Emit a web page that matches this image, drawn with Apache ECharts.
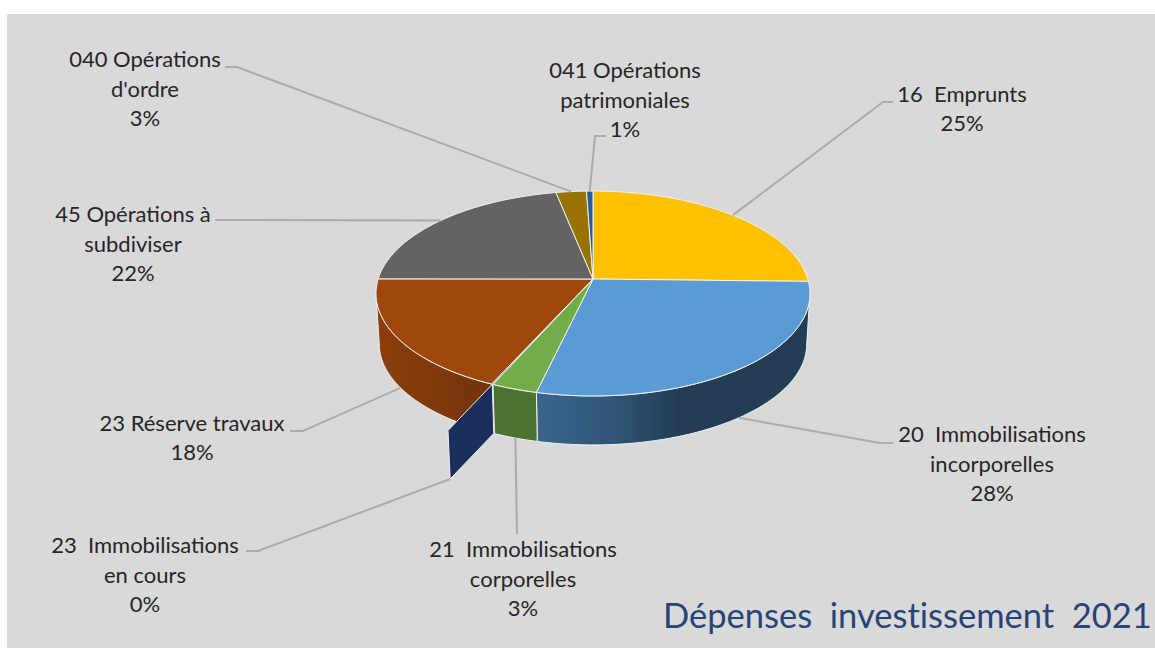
<!DOCTYPE html>
<html>
<head>
<meta charset="utf-8">
<title>Dépenses investissement 2021</title>
<style>
  html, body { margin: 0; padding: 0; background: #fff; overflow: hidden; }
  #chart { width: 1155px; height: 648px; }
  #chart text { font-variant-ligatures: none; }
</style>
<script src="https://cdn.jsdelivr.net/npm/echarts@6/dist/echarts.min.js"></script>
</head>
<body>
<div id="chart"></div>
<script>
var categories = [
  '16  Emprunts',
  '20  Immobilisations\nincorporelles',
  '21  Immobilisations\ncorporelles',
  '23  Immobilisations\nen cours',
  '23 Réserve travaux',
  '45 Opérations à\nsubdiviser',
  "040 Opérations\nd'ordre",
  '041 Opérations\npatrimoniales'
];
var values = [25.4, 28.3, 3.0, 0.1, 18.3, 21.85, 2.6, 0.55];
var topColors = ['#FFC000', '#5B9BD5', '#70AD47', '#264478', '#9E480E', '#636363', '#997300', '#255E91'];

// label centre and leader elbow/end, one entry per category
var labelPos = [[962, 108], [992, 463], [523, 578], [145, 574], [192, 437], [133, 243], [145, 88], [625, 99]];
var elbows = [
  [[883, 102], [893, 102]],
  [[880, 443], [893, 443]],
  [[517, 534]],
  [[258, 551], [246, 551]],
  [[303, 431], [290, 431]],
  [[228, 220], [215, 220]],
  [[237, 67], [225, 67]],
  [[595, 136], [606, 136]]
];

var cx = 593, cy = 279;
var w = 214.8, h = 100.4, k = 0.1415; // perspective of the tilted disc
var depth = 50.75, shrink = 0.985;
var wallStretch = 1.44;
var sideFrom = 98.1, sideTo = 261.9;

var total = values.reduce(function (a, b) { return a + b; }, 0);
var starts = [];
values.reduce(function (acc, v, i) { starts[i] = acc; return acc + v; }, 0);

function toDeg(v) { return v / total * 360; }

function rim(deg) {
  var r = deg * Math.PI / 180;
  var u = Math.sin(r), v = -Math.cos(r);
  var d = 1 - k * v;
  return [cx + w * u / d, cy + h * v / d];
}
function lower(p) {
  return [cx + (p[0] - cx) * shrink, cy + depth + (p[1] - cy) * shrink];
}
function stretchTop(p) {
  return [cx + (p[0] - cx) * wallStretch, cy + (p[1] - cy) * wallStretch];
}
function stretchLow(q) {
  return [cx + (q[0] - cx) * wallStretch, cy + depth + (q[1] - cy - depth) * wallStretch];
}
function arc(a0, a1) {
  var pts = [];
  var n = Math.max(2, Math.ceil(Math.abs(a1 - a0)));
  for (var i = 0; i <= n; i++) pts.push(rim(a0 + (a1 - a0) * i / n));
  return pts;
}
function midDeg(i) {
  return toDeg(starts[i] + values[i] / 2);
}
function sideFill(i) {
  if (i === 1) {
    return new echarts.graphic.LinearGradient(0, 0, 1, 0, [
      { offset: 0, color: '#3B648C' },
      { offset: 0.28, color: '#2F5677' },
      { offset: 0.52, color: '#233D54' },
      { offset: 1, color: '#233D54' }
    ]);
  }
  if (i === 4) {
    return new echarts.graphic.LinearGradient(0, 0, 1, 0, [
      { offset: 0, color: '#8B3F0A' },
      { offset: 1, color: '#74320A' }
    ]);
  }
  return i === 2 ? '#4C7430' : '#1B2F5C';
}

function renderSide(params, api) {
  var i = api.value(0);
  var s = Math.max(toDeg(starts[i]), sideFrom);
  var e = Math.min(toDeg(starts[i] + values[i]), sideTo);
  if (e <= s || values[i] < 0.5) return { type: 'group', children: [] };
  var upper = arc(s, e);
  return {
    type: 'polygon',
    shape: { points: upper.concat(upper.slice().reverse().map(lower)) },
    style: { fill: sideFill(i), stroke: '#F2F2F2', lineWidth: 1 }
  };
}

// the 0 % slice only shows as a wall sticking out of the disc
function renderWall(params, api) {
  var i = api.value(0);
  if (values[i] >= 0.5) return { type: 'group', children: [] };
  var p = rim(midDeg(i)), q = lower(p);
  return {
    type: 'polygon',
    shape: { points: [p, q, stretchLow(q), stretchTop(p)] },
    style: { fill: sideFill(i), stroke: '#F2F2F2', lineWidth: 1 }
  };
}

function renderTop(params, api) {
  var i = api.value(0);
  var a0 = toDeg(starts[i]), a1 = toDeg(starts[i] + values[i]);
  return {
    type: 'polygon',
    shape: { points: [[cx, cy]].concat(arc(a0, a1)) },
    style: { fill: topColors[i], stroke: '#F2F2F2', lineWidth: 1 }
  };
}

function leaderStart(i) {
  var mid = midDeg(i);
  var p = rim(mid);
  if (values[i] < 0.5) return stretchLow(lower(p));
  return mid > sideFrom && mid < sideTo ? lower(p) : p;
}

function renderLabel(params, api) {
  var i = api.value(0);
  var pct = Math.round(values[i] / total * 100) + '%';
  return {
    type: 'group',
    children: [
      {
        type: 'polyline',
        shape: { points: [leaderStart(i)].concat(elbows[i]) },
        style: { fill: 'none', stroke: '#ABABAB', lineWidth: 2 }
      },
      {
        type: 'text',
        x: labelPos[i][0],
        y: labelPos[i][1],
        style: {
          text: categories[i] + '\n' + pct,
          align: 'center',
          verticalAlign: 'middle',
          fill: '#262626',
          font: '22px Lato',
          lineHeight: 29.5
        }
      }
    ]
  };
}

var rows = categories.map(function (c, i) { return [i, values[i], c]; });

function layer(render, z) {
  return {
    type: 'custom',
    coordinateSystem: 'none',
    renderItem: render,
    data: rows,
    z: z,
    silent: true,
    animation: false
  };
}

var chart = echarts.init(document.getElementById('chart'), null, { renderer: 'svg' });
chart.setOption({
  animation: false,
  backgroundColor: '#fff',
  title: {
    text: 'Dépenses  investissement  2021',
    left: 663,
    top: 597,
    padding: 0,
    textStyle: { color: '#264478', fontFamily: 'Lato', fontSize: 34.5, fontWeight: 'normal' }
  },
  graphic: [{
    type: 'rect',
    z: -10,
    silent: true,
    shape: { x: 7, y: 14, width: 1148, height: 634 },
    style: { fill: '#D9D9D9' }
  }],
  series: [layer(renderSide, 2), layer(renderWall, 3), layer(renderTop, 4), layer(renderLabel, 5)]
});
window.addEventListener('resize', function () { chart.resize(); });
</script>
</body>
</html>
